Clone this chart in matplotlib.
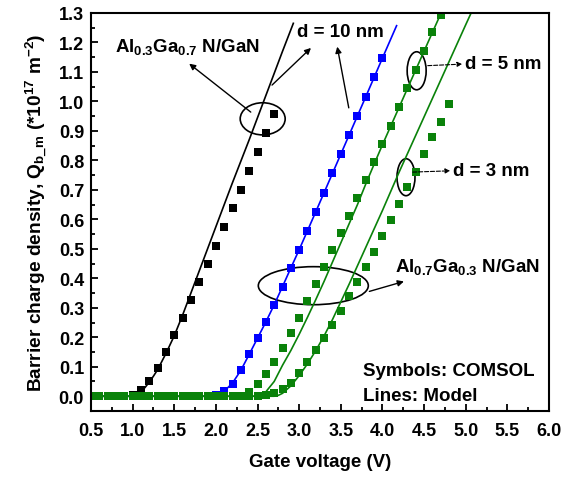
import matplotlib
matplotlib.use("Agg")
import matplotlib.pyplot as plt
from matplotlib.patches import Ellipse
from matplotlib.ticker import MultipleLocator

plt.rcParams['font.family'] = ['Liberation Sans', 'DejaVu Sans']
plt.rcParams['font.weight'] = 'bold'
plt.rcParams['mathtext.fontset'] = 'custom'
plt.rcParams['mathtext.rm'] = 'Liberation Sans:bold'
plt.rcParams['mathtext.it'] = 'Liberation Sans:bold'
plt.rcParams['mathtext.bf'] = 'Liberation Sans:bold'

# COMSOL results (symbols), gate voltage step 0.1 V
vg_al03 = [0.5, 0.6, 0.7, 0.8, 0.9, 1.0, 1.1, 1.2, 1.3, 1.4, 1.5, 1.6, 1.7, 1.8,
           1.9, 2.0, 2.1, 2.2, 2.3, 2.4, 2.5, 2.6, 2.7]
q_al03 = [0, 0, 0, 0, 0, 0.005, 0.02, 0.05, 0.095, 0.15, 0.208, 0.267, 0.326, 0.386,
          0.447, 0.51, 0.573, 0.637, 0.699, 0.765, 0.828, 0.892, 0.958]

vg_d10 = [0.5, 0.6, 0.7, 0.8, 0.9, 1.0, 1.1, 1.2, 1.3, 1.4, 1.5, 1.6, 1.7, 1.8,
          1.9, 2.0, 2.1, 2.2, 2.3, 2.4, 2.5, 2.6, 2.7, 2.8, 2.9, 3.0, 3.1, 3.2,
          3.3, 3.4, 3.5, 3.6, 3.7, 3.8, 3.9, 4.0]
q_d10 = [0, 0, 0, 0, 0, 0, 0, 0, 0, 0, 0, 0, 0, 0,
         0, 0.003, 0.018, 0.043, 0.088, 0.142, 0.197, 0.252, 0.31, 0.372, 0.435, 0.497, 0.561, 0.626,
         0.691, 0.756, 0.821, 0.886, 0.951, 1.016, 1.082, 1.147]

vg_d5 = [0.5, 0.6, 0.7, 0.8, 0.9, 1.0, 1.1, 1.2, 1.3, 1.4, 1.5, 1.6, 1.7, 1.8,
         1.9, 2.0, 2.1, 2.2, 2.3, 2.4, 2.5, 2.6, 2.7, 2.8, 2.9, 3.0, 3.1, 3.2,
         3.3, 3.4, 3.5, 3.6, 3.7, 3.8, 3.9, 4.0, 4.1, 4.2, 4.3, 4.4, 4.5, 4.6, 4.7]
q_d5 = [0, 0, 0, 0, 0, 0, 0, 0, 0, 0, 0, 0, 0, 0,
        0, 0, 0, 0, 0, 0.015, 0.041, 0.075, 0.117, 0.163, 0.213, 0.267, 0.324, 0.38,
        0.438, 0.496, 0.553, 0.612, 0.672, 0.732, 0.793, 0.855, 0.918, 0.98, 1.044, 1.107, 1.17, 1.234, 1.293]

vg_d3 = [0.5, 0.6, 0.7, 0.8, 0.9, 1.0, 1.1, 1.2, 1.3, 1.4, 1.5, 1.6, 1.7, 1.8,
         1.9, 2.0, 2.1, 2.2, 2.3, 2.4, 2.5, 2.6, 2.7, 2.8, 2.9, 3.0, 3.1, 3.2,
         3.3, 3.4, 3.5, 3.6, 3.7, 3.8, 3.9, 4.0, 4.1, 4.2, 4.3, 4.4, 4.5, 4.6, 4.7, 4.8]
q_d3 = [0, 0, 0, 0, 0, 0, 0, 0, 0, 0, 0, 0, 0, 0,
        0, 0, 0, 0, 0, 0, 0, 0.005, 0.012, 0.026, 0.046, 0.078, 0.116, 0.158,
        0.196, 0.24, 0.289, 0.339, 0.386, 0.438, 0.49, 0.542, 0.598, 0.652, 0.71, 0.762, 0.821, 0.878, 0.931, 0.991]

# analytical model (lines)
mv_al03 = [0.5, 1.0, 1.05, 1.1, 1.15, 1.2, 1.25, 1.3, 1.4, 1.5, 1.6, 1.7, 1.8, 1.9,
           2.0, 2.2, 2.4, 2.6, 2.8, 2.93]
mq_al03 = [0, 0, 0.005, 0.015, 0.03, 0.048, 0.068, 0.09, 0.145, 0.205, 0.275, 0.35, 0.425, 0.5,
           0.575, 0.725, 0.87, 1.02, 1.17, 1.265]

mv_d10 = [0.5, 2.0, 2.05, 2.1, 2.2, 2.3, 2.4, 2.5, 2.6, 2.7, 2.8, 2.9, 3.0, 3.2,
          3.4, 3.6, 3.8, 4.0, 4.17]
mq_d10 = [0, 0, 0.005, 0.017, 0.045, 0.088, 0.142, 0.197, 0.252, 0.31, 0.372, 0.435, 0.497, 0.626,
          0.756, 0.886, 1.016, 1.147, 1.257]

mv_d5 = [0.5, 2.5, 2.55, 2.6, 2.7, 2.8, 2.9, 3.0, 3.1, 3.2, 3.3, 3.4, 3.5, 3.6,
         3.7, 3.8, 3.9, 4.0, 4.2, 4.4, 4.6, 4.7]
mq_d5 = [0, 0, 0.004, 0.015, 0.05, 0.105, 0.155, 0.21, 0.268, 0.328, 0.39, 0.455, 0.52, 0.585,
         0.65, 0.72, 0.787, 0.853, 0.98, 1.107, 1.234, 1.297]

mv_d3 = [0.5, 2.7, 2.75, 2.8, 2.9, 3.0, 3.1, 3.2, 3.3, 3.4, 3.5, 3.6, 3.8, 4.0,
         4.2, 4.4, 4.6, 4.8, 5.0, 5.06]
mq_d3 = [0, 0, 0.003, 0.01, 0.035, 0.07, 0.11, 0.155, 0.205, 0.26, 0.32, 0.38, 0.505, 0.63,
         0.76, 0.885, 1.01, 1.135, 1.26, 1.297]

green = '#0a820a'

fig = plt.figure(figsize=(5.74, 4.81), dpi=100)
ax = fig.add_axes([0.1585, 0.1435, 0.7979, 0.8274])

ax.plot(mv_al03, mq_al03, color='k', lw=1.2)
ax.plot(mv_d10, mq_d10, color='#0000ff', lw=1.2)
ax.plot(mv_d5, mq_d5, color=green, lw=1.2)
ax.plot(mv_d3, mq_d3, color=green, lw=1.2)

ms = 5.8
ax.plot(vg_al03, q_al03, 's', color='k', ms=ms, mew=0)
ax.plot(vg_d10, q_d10, 's', color='#0000ff', ms=ms, mew=0)
ax.plot(vg_d3, q_d3, 's', color=green, ms=ms, mew=0)
ax.plot(vg_d5, q_d5, 's', color=green, ms=ms, mew=0)

ax.set_xlim(0.5, 6.0)
ax.set_ylim(-0.05, 1.3)
ax.xaxis.set_major_locator(MultipleLocator(0.5))
ax.xaxis.set_minor_locator(MultipleLocator(0.25))
ax.yaxis.set_major_locator(MultipleLocator(0.1))
ax.yaxis.set_minor_locator(MultipleLocator(0.05))
ax.xaxis.set_major_formatter(plt.FormatStrFormatter('%.1f'))
ax.yaxis.set_major_formatter(plt.FormatStrFormatter('%.1f'))
ax.tick_params(which='both', direction='in', labelsize=13, width=1.3)
ax.tick_params(which='major', length=5)
ax.tick_params(which='minor', length=3)
ax.tick_params(axis='x', pad=8)
ax.tick_params(axis='y', pad=5)
for sp in ax.spines.values():
    sp.set_linewidth(1.5)

ax.set_xlabel('Gate voltage (V)', fontsize=13.5, fontweight='bold', labelpad=10)
ax.set_ylabel(r'Barrier charge density, Q$_{\mathrm{b\_m}}$ (*10$^{17}$ m$^{-2}$)',
              fontsize=13.8, fontweight='bold', labelpad=6)

# circled groups and labels
ax.add_patch(Ellipse((2.562, 0.941), 0.54, 0.109, fill=False, lw=1.2, ec='k'))
ax.add_patch(Ellipse((4.411, 1.104), 0.228, 0.129, fill=False, lw=1.2, ec='k'))
ax.add_patch(Ellipse((4.283, 0.743), 0.216, 0.1255, fill=False, lw=1.2, ec='k'))
ax.add_patch(Ellipse((3.17, 0.375), 1.321, 0.129, fill=False, lw=1.2, ec='k'))

arrow = dict(arrowstyle='-|>', color='k', lw=1.0, mutation_scale=9)
dashed = dict(arrowstyle='-|>', color='k', lw=0.8, ls='--', mutation_scale=7)
ax.annotate('', xy=(1.653, 1.134), xytext=(2.445, 0.958), arrowprops=arrow)
ax.annotate('', xy=(3.166, 1.188), xytext=(2.65, 1.049), arrowprops=arrow)
ax.annotate('', xy=(3.451, 1.195), xytext=(3.602, 0.969), arrowprops=arrow)
ax.annotate('', xy=(4.991, 1.127), xytext=(4.511, 1.121), arrowprops=dashed)
ax.annotate('', xy=(4.847, 0.765), xytext=(4.331, 0.76), arrowprops=dashed)
ax.annotate('', xy=(4.29, 0.392), xytext=(3.811, 0.353), arrowprops=arrow)

fs = 13.5
ax.text(0.788, 1.188, r'Al$_{0.3}$Ga$_{0.7}$ N/GaN', fontsize=fs, va='center')
ax.text(2.974, 1.236, 'd = 10 nm', fontsize=fs, va='center')
ax.text(4.991, 1.127, 'd = 5 nm', fontsize=fs, va='center')
ax.text(4.847, 0.765, 'd = 3 nm', fontsize=fs, va='center')
ax.text(4.151, 0.442, r'Al$_{0.7}$Ga$_{0.3}$ N/GaN', fontsize=fs, va='center')
ax.text(3.766, 0.086, 'Symbols: COMSOL', fontsize=fs, va='center')
ax.text(3.766, 0.001, 'Lines: Model', fontsize=fs, va='center')

fig.savefig('out.png', dpi=100)
